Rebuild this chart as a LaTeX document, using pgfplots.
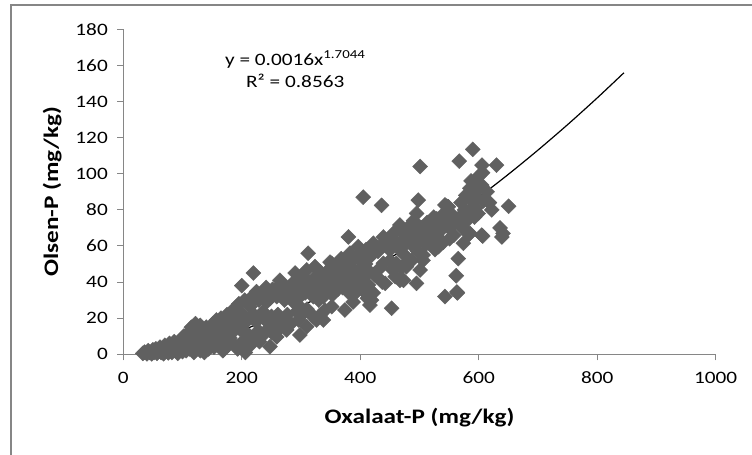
\documentclass[border=0pt]{standalone}
\usepackage{fontspec}
\setmainfont{Carlito}[FakeStretch=1.22]
\usepackage{pgfplots}
\pgfplotsset{compat=1.18}
\definecolor{axgray}{RGB}{134,134,134}
\definecolor{mk}{RGB}{96,96,96}
\begin{document}
\begin{tikzpicture}
\useasboundingbox (0,0) rectangle (752bp,455bp);
\fill[white] (0,0) rectangle (752bp,455bp);
\draw[axgray, line width=1.4bp] (11bp,-5bp) -- (11bp,450bp) -- (760bp,450bp);
\begin{axis}[
  scale only axis, width=592.4bp, height=325bp,
  anchor=south west, at={(123.3bp,100.7bp)},
  xmin=0,xmax=1000,ymin=0,ymax=180,
  enlargelimits=false,
  axis lines*=left,
  axis line style={axgray, line width=1.2bp},
  tick style={axgray, line width=1bp},
  major tick length=6bp, tick align=outside,
  xtick={0,200,...,1000}, ytick={0,20,...,180},
  /pgf/number format/assume math mode=true,
  /pgf/number format/1000 sep={},
  ticklabel style={font=\fontsize{17.5}{21}\selectfont, text=black},
  xticklabel style={yshift=-8bp},
  yticklabel style={xshift=-6bp},
  xlabel={Oxalaat-P (mg/kg)}, ylabel={Olsen-P (mg/kg)},
  label style={font=\bfseries\fontsize{20.7}{24}\selectfont},
  xlabel style={at={(axis description cs:0.5,-0.2114)}, anchor=base},
  ylabel style={at={(axis description cs:-0.1102,0.5)}, anchor=base},
  clip=false,
]
\addplot[only marks, color=mk, mark=square*, mark size=5.3bp, mark options={rotate=45, fill=mk, draw=none}] coordinates {
(33,0.5)(36,1.2)(40,0.3)(42,2)(45,1)(48,0.2)(50,2.5)
(52,1)(55,3)(57,0.5)(60,2)(62,4)(64,1)(66,3)(68,0.3)(70,5)
(72,2)(74,4)(76,0.8)(78,6)(80,3)(82,1)(84,5)(86,7)(88,2)(90,4)
(92,0.5)(94,6)(96,3)(98,8)(100,1.5)(102,10)(104,5)(106,2)(108,7)(110,12)
(112,3)(114,9)(115,15)(117,6)(119,1)(120,11)(122,17)(124,4)(126,13)(128,8)(130,2)(130,16)
(132,10)(134,5)(135,13)(137,1)(139,8)(140,15)(142,11)(144,3)(146,15)(148,7)(150,12)
(152,17)(153,4)(155,10)(157,19)(158,14)(160,6)(162,12)(163,15)(165,20)(167,8)(168,2)(170,17)
(172,11)(174,18)(175,22)(177,5)(178,14)(180,9)(182,20)(184,24)(185,6)(187,13)(188,17)(190,26)
(191,19)(193,3)(195,28)(197,14)(198,22)(200,38)(201,7)(202,21.8)(204,17)(205,30)(206,1)(208,12)(210,19)
(212,8)(213,28)(214,26.4)(215,5.2)(218,32)(219.5,45)(220,22)(222,10)(224,18)(225,34.7)(228,13)(229,30)(230,7)
(231,21)(234,33)(236,23.6)(237,11)(240,19)(241,37)(242,29)(242,35.6)(244,14)(247.6,4.2)(248,31)(250,21)
(251,12)(252,36)(255,17)(257,33)(259,9.7)(259,31.9)(259,36.5)(261,22)(264.5,41)(266,15)(267,34)(270,38)
(271,19)(272,30)(275.8,13.5)(275.8,33.8)(277,22)(279,37)(281,36)(283,17)(285,32)(288,40)(290,45)(290,28)
(292.7,23.6)(293,35)(296,19)(298,10.7)(298,26.4)(298,31.9)(300,38)(302,22)(304,43)(307,34)(309.6,15.3)(309.6,46.7)(310,25)
(312,56)(313,39)(315,36.5)(318,22)(320.7,20.8)(320.7,31.9)(322,42)(323.6,48.5)(326.5,19)(327,35)(329,40)(330,30)
(332,45.7)(333,22)(335,37)(337.6,19)(338,32)(340.5,24.5)(341,42)(345,36)(347,47)(349,51)(350,40)
(351.8,26.4)(351.8,50.4)(353,33)(355,44)(357,38)(360,44.8)(362,36)(363,48)(367,41)(368,53)(370,37)
(372,46)(374,24.5)(375,39)(377,44.8)(378,50)(380,65)(381,34)(382.7,56)(384,42)(386,48)(388,29)(388,39.3)(390,53)
(392,45)(394,34.7)(396.7,59.6)(398,40)(399.6,52.2)(401,47)(403,36)(405,87)(405,55)(407,43)(409,50)(410,58)
(412,31)(413.6,38.4)(415,46)(416.4,27.3)(416.4,54)(419,30)(420,60)(422,34)(422,61.5)(424,44)(428,43)(430,57)
(433,59.6)(434,48)(436,82.5)(437,40)(439,65)(439,50.4)(442,39.3)(444,60)(448,62)(450,57.8)(450,52)
(453,25.5)(454,47)(456,67)(459,43)(461,50.4)(462,61)(466,58)(467,41)(467,71.6)(469,48)(470,63)
(473,41)(473,67)(475,55)(478,48.5)(478,61.5)(480,70)(482,52)(484,68.8)(487,52)(488,64)(490,74)(490,59.6)
(492,66)(495,78)(495,39.3)(497,57)(498,85.4)(499,62)(501,104)(501,46.7)(503,70)(504,64)(506,52)(506,55)(508,68)
(511,61)(513,73)(515,66)(518,72.5)(520,63)(522,69)(524,76)(526,58)(529,75)(530,65)
(532,59.6)(534,68)(536,71)(538,77)(540,62)(543,82.7)(543,32)(545,74)(546,82)(548.6,81.7)(550,70)(551,64)
(553,78)(556,72)(558,66)(562,43.5)(563,34.5)(564,34)(565.5,53)(567,107)(568,76)(570,84)
(572,70)(574,61.5)(576,80)(578,88)(580,74)(583.5,66.4)(585,92)(585,80)(585,67)(587,96)(589,85)(590,113.5)(590,91)
(593,76)(595,81)(597,87)(599,78)(601,99)(602,93)(605,93.7)(605,66)(606.7,65.5)(606.5,100.6)(605.5,104.8)(608,85)
(614,90)(618,84)(622,80)(630,104.8)(636,70)(639,65)(641,67)(650.5,82)
};
\addplot[black, line width=1.2bp, no marks, smooth] coordinates {
(33,0.62)(50,1.26)(75,2.51)(100,4.10)(150,8.19)(200,13.37)(250,19.55)(300,26.68)(350,34.70)(400,43.57)(450,53.25)(500,63.73)(550,74.98)(600,86.98)(650,99.68)(700,113.1)(750,127.2)(800,142.0)(845,155.9)
};
\node[anchor=base, font=\fontsize{17.5}{21}\selectfont] at (axis cs:290.3,160.2) {y = 0.0016x\textsuperscript{1.7044}};
\node[anchor=base, font=\fontsize{17.5}{21}\selectfont] at (axis cs:290.3,148) {R² = 0.8563};
\end{axis}
\end{tikzpicture}
\end{document}
